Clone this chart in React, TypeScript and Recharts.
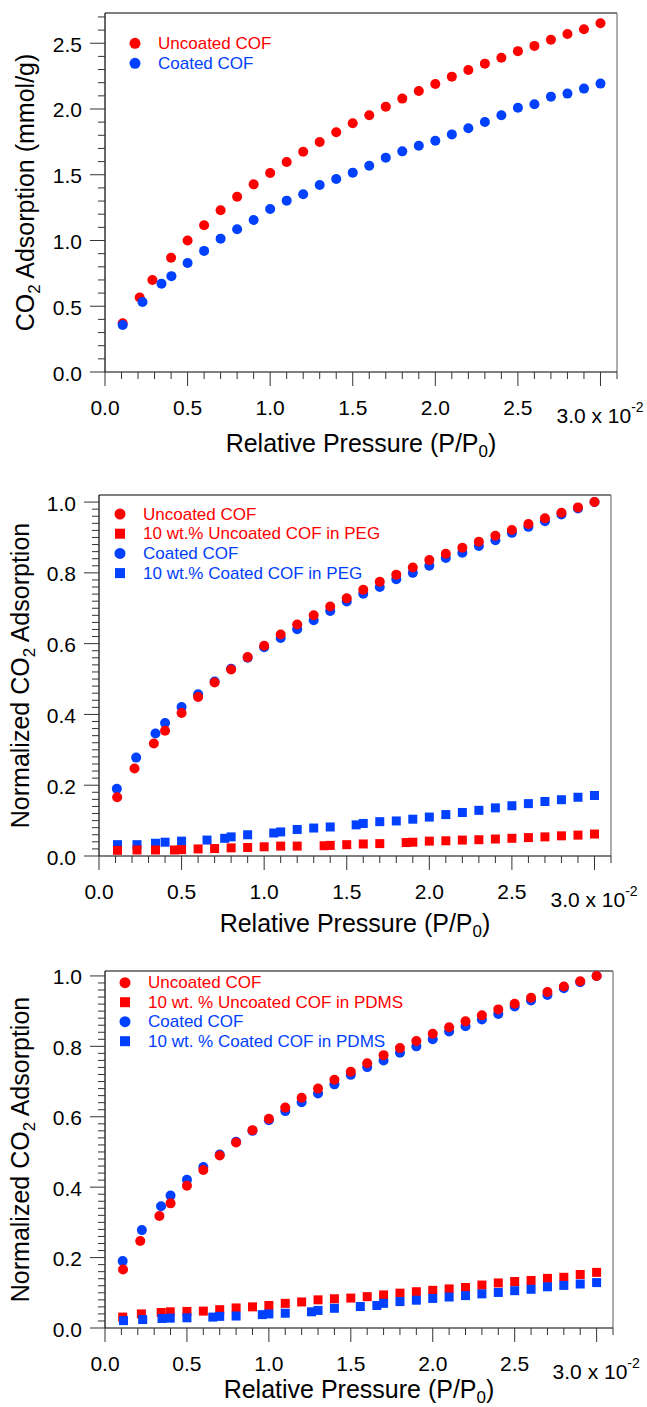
import React from 'react';
import { ScatterChart, Scatter, XAxis, YAxis, ReferenceLine, Legend } from 'recharts';

const RED = '#ff0000';
const BLUE = '#0040ff';
const INK = '#000000';
const TICK = '#333333';
const FONT = 'Arial, "Liberation Sans", Helvetica, sans-serif';

// ---- panel (a): CO2 uptake in mmol/g ----
const uncoatedX = [0.107, 0.21, 0.287, 0.4, 0.5, 0.6, 0.7, 0.8, 0.9, 1.0, 1.1, 1.2, 1.3, 1.4, 1.5, 1.6, 1.7, 1.8, 1.9, 2.0, 2.1, 2.2, 2.3, 2.4, 2.5, 2.6, 2.7, 2.8, 2.9, 3.0];
const uncoatedY = [0.37, 0.566, 0.7, 0.869, 1.0, 1.116, 1.23, 1.333, 1.427, 1.513, 1.597, 1.675, 1.749, 1.823, 1.891, 1.952, 2.018, 2.079, 2.137, 2.19, 2.246, 2.297, 2.345, 2.39, 2.44, 2.48, 2.527, 2.57, 2.606, 2.652];
const coatedX = [0.107, 0.227, 0.342, 0.402, 0.5, 0.6, 0.7, 0.8, 0.9, 1.0, 1.1, 1.2, 1.3, 1.4, 1.5, 1.6, 1.7, 1.8, 1.9, 2.0, 2.1, 2.2, 2.3, 2.4, 2.5, 2.6, 2.7, 2.8, 2.9, 3.0];
const coatedY = [0.358, 0.532, 0.672, 0.729, 0.829, 0.921, 1.014, 1.086, 1.156, 1.24, 1.303, 1.352, 1.422, 1.468, 1.516, 1.569, 1.63, 1.678, 1.721, 1.759, 1.807, 1.853, 1.901, 1.952, 2.01, 2.036, 2.094, 2.117, 2.155, 2.193];

// ---- panels (b) and (c): normalized powders ----
const normUncoatedX = [0.11, 0.215, 0.332, 0.4, 0.5, 0.6, 0.7, 0.8, 0.9, 1.0, 1.1, 1.2, 1.3, 1.4, 1.5, 1.6, 1.7, 1.8, 1.9, 2.0, 2.1, 2.2, 2.3, 2.4, 2.5, 2.6, 2.7, 2.8, 2.9, 3.0];
const normUncoatedY = [0.166, 0.247, 0.318, 0.354, 0.404, 0.449, 0.49, 0.527, 0.562, 0.594, 0.626, 0.654, 0.68, 0.705, 0.728, 0.752, 0.775, 0.795, 0.815, 0.836, 0.854, 0.871, 0.888, 0.905, 0.921, 0.938, 0.954, 0.97, 0.985, 1.0];
const normCoatedX = [0.108, 0.225, 0.342, 0.4, 0.5, 0.6, 0.7, 0.8, 0.9, 1.0, 1.1, 1.2, 1.3, 1.4, 1.5, 1.6, 1.7, 1.8, 1.9, 2.0, 2.1, 2.2, 2.3, 2.4, 2.5, 2.6, 2.7, 2.8, 2.9, 3.0];
const normCoatedY = [0.19, 0.278, 0.346, 0.376, 0.421, 0.457, 0.493, 0.529, 0.56, 0.59, 0.616, 0.641, 0.666, 0.692, 0.719, 0.741, 0.76, 0.782, 0.8, 0.82, 0.842, 0.857, 0.876, 0.892, 0.913, 0.93, 0.946, 0.965, 0.982, 1.0];

// ---- panel (b): PEG mixed matrix ----
const pegUncoatedX = [0.112, 0.23, 0.342, 0.457, 0.5, 0.6, 0.7, 0.8, 0.9, 1.0, 1.1, 1.2, 1.363, 1.4, 1.5, 1.6, 1.7, 1.86, 1.9, 2.0, 2.1, 2.2, 2.3, 2.4, 2.5, 2.6, 2.7, 2.8, 2.9, 3.0];
const pegUncoatedY = [0.016, 0.017, 0.017, 0.017, 0.018, 0.02, 0.021, 0.023, 0.024, 0.026, 0.028, 0.028, 0.029, 0.03, 0.032, 0.034, 0.035, 0.038, 0.039, 0.042, 0.043, 0.045, 0.046, 0.048, 0.05, 0.052, 0.054, 0.057, 0.059, 0.062];
const pegCoatedX = [0.112, 0.23, 0.342, 0.4, 0.5, 0.654, 0.761, 0.8, 0.9, 1.058, 1.1, 1.2, 1.3, 1.4, 1.557, 1.6, 1.7, 1.8, 1.9, 2.0, 2.1, 2.2, 2.3, 2.4, 2.5, 2.6, 2.7, 2.8, 2.9, 3.0];
const pegCoatedY = [0.032, 0.032, 0.036, 0.039, 0.042, 0.045, 0.05, 0.054, 0.06, 0.065, 0.068, 0.075, 0.079, 0.082, 0.088, 0.092, 0.097, 0.099, 0.104, 0.11, 0.117, 0.123, 0.129, 0.136, 0.142, 0.148, 0.154, 0.159, 0.166, 0.171];

// ---- panel (c): PDMS mixed matrix ----
const pdmsUncoatedX = [0.108, 0.222, 0.343, 0.398, 0.5, 0.6, 0.7, 0.8, 0.9, 1.0, 1.1, 1.2, 1.3, 1.4, 1.5, 1.6, 1.7, 1.8, 1.9, 2.0, 2.1, 2.2, 2.3, 2.4, 2.5, 2.6, 2.7, 2.8, 2.9, 3.0];
const pdmsUncoatedY = [0.031, 0.04, 0.044, 0.046, 0.047, 0.048, 0.052, 0.057, 0.06, 0.064, 0.07, 0.074, 0.08, 0.083, 0.085, 0.089, 0.094, 0.099, 0.103, 0.107, 0.111, 0.115, 0.122, 0.128, 0.132, 0.135, 0.141, 0.144, 0.152, 0.158];
const pdmsCoatedX = [0.113, 0.23, 0.348, 0.398, 0.5, 0.658, 0.7, 0.8, 0.96, 1.0, 1.1, 1.26, 1.3, 1.4, 1.558, 1.659, 1.7, 1.8, 1.9, 2.0, 2.1, 2.2, 2.3, 2.4, 2.5, 2.6, 2.7, 2.8, 2.9, 3.0];
const pdmsCoatedY = [0.021, 0.024, 0.027, 0.028, 0.029, 0.031, 0.033, 0.034, 0.038, 0.04, 0.042, 0.046, 0.05, 0.056, 0.061, 0.064, 0.07, 0.075, 0.079, 0.084, 0.088, 0.092, 0.097, 0.101, 0.106, 0.11, 0.117, 0.121, 0.125, 0.129];

// ---- ticks and labels ----
const xTicks = [0, 0.1, 0.2, 0.3, 0.4, 0.5, 0.6, 0.7, 0.8, 0.9, 1.0, 1.1, 1.2, 1.3, 1.4, 1.5, 1.6, 1.7, 1.8, 1.9, 2.0, 2.1, 2.2, 2.3, 2.4, 2.5, 2.6, 2.7, 2.8, 2.9, 3.0, 3.1];
const xMajorTicks = [0, 0.5, 1.0, 1.5, 2.0, 2.5, 3.0];
const xTickLabels = ['0.0', '0.5', '1.0', '1.5', '2.0', '2.5', '3.0'];
const xScaleSuffix = ' x 10';
const xScaleExponent = '-2';

const uptakeTicks = [0, 0.1, 0.2, 0.3, 0.4, 0.5, 0.6, 0.7, 0.8, 0.9, 1.0, 1.1, 1.2, 1.3, 1.4, 1.5, 1.6, 1.7, 1.8, 1.9, 2.0, 2.1, 2.2, 2.3, 2.4, 2.5, 2.6, 2.7];
const uptakeMajors = [0, 0.5, 1.0, 1.5, 2.0, 2.5];
const uptakeLabels = ['0.0', '0.5', '1.0', '1.5', '2.0', '2.5'];

const normTicks = [0, 0.02, 0.04, 0.06, 0.08, 0.1, 0.12, 0.14, 0.16, 0.18, 0.2, 0.22, 0.24, 0.26, 0.28, 0.3, 0.32, 0.34, 0.36, 0.38, 0.4, 0.42, 0.44, 0.46, 0.48, 0.5, 0.52, 0.54, 0.56, 0.58, 0.6, 0.62, 0.64, 0.66, 0.68, 0.7, 0.72, 0.74, 0.76, 0.78, 0.8, 0.82, 0.84, 0.86, 0.88, 0.9, 0.92, 0.94, 0.96, 0.98, 1.0];
const normMajors = [0, 0.2, 0.4, 0.6, 0.8, 1.0];
const normLabels = ['0.0', '0.2', '0.4', '0.6', '0.8', '1.0'];

const legendA = ['Uncoated COF', 'Coated COF'];
const legendB = ['Uncoated COF', '10 wt.% Uncoated COF in PEG', 'Coated COF', '10 wt.% Coated COF in PEG'];
const legendC = ['Uncoated COF', '10 wt. % Uncoated COF in PDMS', 'Coated COF', '10 wt. % Coated COF in PDMS'];

type Marker = 'circle' | 'square';
type Series = { name: string; xs: number[]; ys: number[]; color: string; marker: Marker };

const toRows = (xs: number[], ys: number[]) => xs.map((x, i) => ({ x, y: ys[i] }));
const same = (a: number, b: number) => Math.abs(a - b) < 1e-6;

const dotShape = (color: string) => (p: any) => <circle cx={p.cx} cy={p.cy} r={5} fill={color} />;
const squareShape = (color: string) => (p: any) => (
  <rect x={p.cx - 4.5} y={p.cy - 4.5} width={9} height={9} fill={color} />
);

const XTick = (props: any) => {
  const { x, y, payload } = props;
  const i = xMajorTicks.findIndex((m) => same(m, payload.value));
  const major = i >= 0;
  const last = i === xMajorTicks.length - 1;
  return (
    <g>
      <line x1={x} x2={x} y1={y} y2={y + (major ? 14 : 7)} stroke={TICK} strokeWidth={1} />
      {major && !last && (
        <text x={x} y={y + 42.5} textAnchor="middle" fontSize={21} fontFamily={FONT} fill={INK}>
          {xTickLabels[i]}
        </text>
      )}
      {last && (
        <text x={x - 44} y={y + 50.5} fontSize={21} fontFamily={FONT} fill={INK} style={{ whiteSpace: 'pre' }}>
          {xTickLabels[i] + xScaleSuffix}
          <tspan fontSize={14} dy={-11}>{xScaleExponent}</tspan>
        </text>
      )}
    </g>
  );
};

const makeYTick = (majors: number[], labels: string[]) => (props: any) => {
  const { x, y, payload } = props;
  const i = majors.findIndex((m) => same(m, payload.value));
  const major = i >= 0;
  return (
    <g>
      <line x1={x - (major ? 15 : 7)} x2={x} y1={y} y2={y} stroke={TICK} strokeWidth={1} />
      {major && (
        <text x={x - 23} y={y + 8.5} textAnchor="end" fontSize={21} fontFamily={FONT} fill={INK}>
          {labels[i]}
        </text>
      )}
    </g>
  );
};

type LegendSpec = { labels: string[]; colors: string[]; markers: Marker[]; mx: number; tx: number; y: number; gap: number };

const LegendBox = ({ spec }: { spec: LegendSpec }) => (
  <svg width={647} height={120} style={{ display: 'block' }}>
    {spec.labels.map((label, i) => {
      const cy = spec.y + i * spec.gap;
      const c = spec.colors[i];
      return (
        <g key={label}>
          {spec.markers[i] === 'circle' ? (
            <circle cx={spec.mx} cy={cy} r={5.5} fill={c} />
          ) : (
            <rect x={spec.mx - 5} y={cy - 5} width={10} height={10} fill={c} />
          )}
          <text x={spec.tx} y={cy + 5.5} fontSize={17} fontFamily={FONT} fill={c}>
            {label}
          </text>
        </g>
      );
    })}
  </svg>
);

type PanelCfg = {
  top: number;
  height: number;
  plot: { left: number; right: number; top: number; bottom: number };
  yMax: number;
  yTicks: number[];
  yMajors: number[];
  yLabels: string[];
  series: Series[];
  legend: LegendSpec;
  yTitle: [string, string];
  yTitleX: number;
  xTitleGap: number;
};

const Panel = ({ cfg }: { cfg: PanelCfg }) => {
  const { plot } = cfg;
  const YTick = makeYTick(cfg.yMajors, cfg.yLabels);
  const xTitle = (p: any) => {
    const vb = p.viewBox;
    return (
      <text x={vb.x + vb.width / 2} y={vb.y + cfg.xTitleGap} textAnchor="middle" fontSize={25} fontFamily={FONT} fill={INK} style={{ whiteSpace: 'pre' }}>
        Relative Pressure (P/P
        <tspan fontSize={17} dy={5}>0</tspan>
        <tspan dy={-5}>)</tspan>
      </text>
    );
  };
  const yTitle = (p: any) => {
    const vb = p.viewBox;
    const cy = vb.y + vb.height / 2;
    const bx = cfg.yTitleX;
    return (
      <text x={bx} y={cy} transform={`rotate(-90 ${bx} ${cy})`} textAnchor="middle" fontSize={25} fontFamily={FONT} fill={INK} style={{ whiteSpace: 'pre' }}>
        {cfg.yTitle[0]}
        <tspan fontSize={17} dy={6}>2</tspan>
        <tspan dy={-6}>{cfg.yTitle[1]}</tspan>
      </text>
    );
  };
  return (
    <div style={{ position: 'absolute', left: 0, top: cfg.top, width: 647, height: cfg.height }}>
      <ScatterChart width={647} height={cfg.height} margin={{ top: plot.top, right: 647 - plot.right, bottom: 0, left: 0 }}>
        <XAxis
          type="number"
          dataKey="x"
          domain={[0, 3.1]}
          ticks={xTicks}
          interval={0}
          tick={XTick}
          tickLine={false}
          tickSize={0}
          tickMargin={0}
          axisLine={{ stroke: INK, strokeWidth: 1.2 }}
          height={cfg.height - plot.bottom}
          allowDataOverflow
          label={{ content: xTitle }}
        />
        <YAxis
          type="number"
          dataKey="y"
          domain={[0, cfg.yMax]}
          ticks={cfg.yTicks}
          interval={0}
          tick={YTick}
          tickLine={false}
          tickSize={0}
          tickMargin={0}
          axisLine={{ stroke: INK, strokeWidth: 1.2 }}
          width={plot.left}
          allowDataOverflow
          label={{ content: yTitle }}
        />
        <ReferenceLine y={cfg.yMax} stroke={INK} strokeWidth={1.2} />
        <ReferenceLine x={3.1} stroke="#777777" strokeWidth={1.2} />
        {cfg.series.map((s) => (
          <Scatter
            key={s.name}
            name={s.name}
            data={toRows(s.xs, s.ys)}
            fill={s.color}
            shape={s.marker === 'circle' ? dotShape(s.color) : squareShape(s.color)}
            isAnimationActive={false}
          />
        ))}
        <Legend
          layout="vertical"
          align="center"
          verticalAlign="middle"
          wrapperStyle={{ left: 0, top: 0, width: 647, height: 120, pointerEvents: 'none' }}
          content={() => <LegendBox spec={cfg.legend} />}
        />
      </ScatterChart>
    </div>
  );
};

const panels: PanelCfg[] = [
  {
    top: 0,
    height: 470,
    plot: { left: 105, right: 617, top: 13, bottom: 372 },
    yMax: 2.73,
    yTicks: uptakeTicks,
    yMajors: uptakeMajors,
    yLabels: uptakeLabels,
    series: [
      { name: legendA[0], xs: uncoatedX, ys: uncoatedY, color: RED, marker: 'circle' },
      { name: legendA[1], xs: coatedX, ys: coatedY, color: BLUE, marker: 'circle' },
    ],
    legend: { labels: legendA, colors: [RED, BLUE], markers: ['circle', 'circle'], mx: 135, tx: 158, y: 43.3, gap: 20 },
    yTitle: ['CO', ' Adsorption (mmol/g)'],
    yTitleX: 34,
    xTitleGap: 80,
  },
  {
    top: 470,
    height: 478,
    plot: { left: 99, right: 611, top: 25, bottom: 386 },
    yMax: 1.02,
    yTicks: normTicks,
    yMajors: normMajors,
    yLabels: normLabels,
    series: [
      { name: legendB[3], xs: pegCoatedX, ys: pegCoatedY, color: BLUE, marker: 'square' },
      { name: legendB[1], xs: pegUncoatedX, ys: pegUncoatedY, color: RED, marker: 'square' },
      { name: legendB[2], xs: normCoatedX, ys: normCoatedY, color: BLUE, marker: 'circle' },
      { name: legendB[0], xs: normUncoatedX, ys: normUncoatedY, color: RED, marker: 'circle' },
    ],
    legend: { labels: legendB, colors: [RED, RED, BLUE, BLUE], markers: ['circle', 'square', 'circle', 'square'], mx: 120, tx: 143, y: 44, gap: 19.7 },
    yTitle: ['Normalized CO', ' Adsorption'],
    yTitleX: 29,
    xTitleGap: 76,
  },
  {
    top: 940,
    height: 467,
    plot: { left: 105, right: 613, top: 31, bottom: 388 },
    yMax: 1.014,
    yTicks: normTicks,
    yMajors: normMajors,
    yLabels: normLabels,
    series: [
      { name: legendC[1], xs: pdmsUncoatedX, ys: pdmsUncoatedY, color: RED, marker: 'square' },
      { name: legendC[3], xs: pdmsCoatedX, ys: pdmsCoatedY, color: BLUE, marker: 'square' },
      { name: legendC[2], xs: normCoatedX, ys: normCoatedY, color: BLUE, marker: 'circle' },
      { name: legendC[0], xs: normUncoatedX, ys: normUncoatedY, color: RED, marker: 'circle' },
    ],
    legend: { labels: legendC, colors: [RED, RED, BLUE, BLUE], markers: ['circle', 'square', 'circle', 'square'], mx: 125, tx: 148, y: 42.7, gap: 19.5 },
    yTitle: ['Normalized CO', ' Adsorption'],
    yTitleX: 28.5,
    xTitleGap: 69.5,
  },
];

export default function App() {
  return (
    <div style={{ position: 'absolute', left: 0, top: 0, width: 647, height: 1407, background: '#ffffff', overflow: 'hidden' }}>
      {panels.map((p) => (
        <Panel key={p.top} cfg={p} />
      ))}
    </div>
  );
}
